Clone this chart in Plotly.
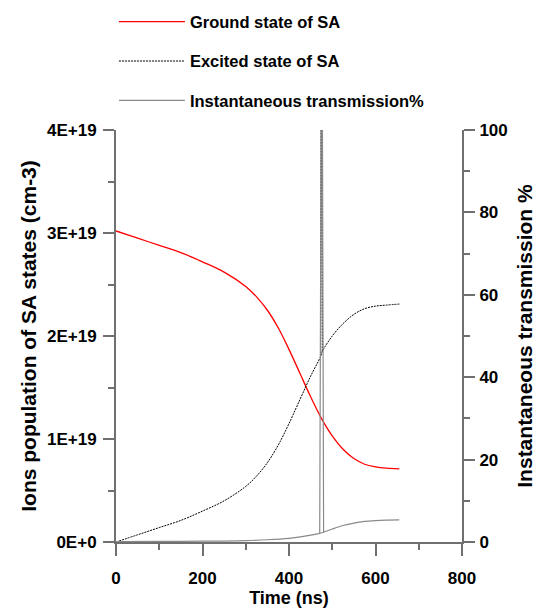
import plotly.graph_objects as go

# Time axis samples (ns)
time_ground = [0, 50, 100, 150, 200, 250, 300, 325, 350, 375, 400, 425, 450,
               475, 500, 525, 550, 575, 600, 625, 655]
# Ground-state population of the saturable absorber (cm-3)
ground_state = [3.02e19, 2.95e19, 2.88e19, 2.81e19, 2.72e19, 2.62e19, 2.48e19,
                2.38e19, 2.25e19, 2.08e19, 1.87e19, 1.64e19, 1.41e19, 1.20e19,
                1.03e19, 0.90e19, 0.81e19, 0.755e19, 0.73e19, 0.717e19, 0.71e19]

time_excited = [0, 50, 100, 150, 200, 250, 300, 325, 350, 375, 400, 425, 450,
                473, 477, 500, 525, 550, 575, 600, 625, 655]
# Excited-state population (cm-3)
excited_state = [0.0, 0.07e19, 0.14e19, 0.21e19, 0.30e19, 0.40e19, 0.54e19,
                 0.64e19, 0.77e19, 0.94e19, 1.15e19, 1.38e19, 1.61e19, 1.80e19,
                 1.85e19, 2.00e19, 2.12e19, 2.21e19, 2.265e19, 2.29e19, 2.30e19,
                 2.31e19]
# Short excited-state spike near 475 ns
time_excited_spike = [473, 475, 477]
excited_spike = [1.80e19, 6.0e19, 1.85e19]

time_trans = [0, 100, 200, 300, 350, 400, 430, 450, 471, 480, 500, 525,
              550, 575, 600, 625, 655]
# Instantaneous transmission (%)
transmission = [0.1, 0.15, 0.2, 0.35, 0.55, 0.9, 1.3, 1.65, 2.1, 2.4,
                3.15, 4.0, 4.6, 5.0, 5.2, 5.3, 5.35]
# Transmission spike near 476 ns (%)
time_trans_spike = [471, 476, 480]
trans_spike = [2.1, 150.0, 2.4]

y_tick_vals = [0, 1e19, 2e19, 3e19, 4e19]
y_tick_text = ["0E+0", "1E+19", "2E+19", "3E+19", "4E+19"]

AXIS = "#707070"
RED = "#ff0000"
GREY = "#8a8a8a"
EXC_LINE = dict(color="#000000", width=1, dash="2px,1px")
TR_LINE = dict(color=GREY, width=1.2)

fig = go.Figure()
fig.add_trace(go.Scatter(
    x=time_ground, y=ground_state, mode="lines", name="Ground state of SA",
    line=dict(color=RED, width=1.3, shape="spline", smoothing=1.0),
    legendgroup="g1"))
fig.add_trace(go.Scatter(
    x=time_excited, y=excited_state, mode="lines", name="Excited state of SA",
    line=dict(EXC_LINE, shape="spline", smoothing=1.0), legendgroup="g2"))
fig.add_trace(go.Scatter(
    x=time_excited_spike, y=excited_spike, mode="lines", showlegend=False,
    line=EXC_LINE, legendgroup="g2"))
fig.add_trace(go.Scatter(
    x=time_trans, y=transmission, mode="lines", name="Instantaneous transmission%",
    line=dict(TR_LINE, shape="spline", smoothing=1.0), yaxis="y2",
    legendgroup="g3"))
fig.add_trace(go.Scatter(
    x=time_trans_spike, y=trans_spike, mode="lines", showlegend=False,
    line=TR_LINE, yaxis="y2", legendgroup="g3"))

fig.update_layout(
    width=536, height=612,
    margin=dict(l=116, r=74, t=130, b=70, autoexpand=False),
    paper_bgcolor="white", plot_bgcolor="white",
    font=dict(family="Liberation Sans, Arial, sans-serif", size=17,
              color="black", weight="bold"),
    showlegend=True,
    legend=dict(x=-0.006, y=1.305, xanchor="left", yanchor="top",
                bgcolor="rgba(0,0,0,0)", itemwidth=66, tracegroupgap=15,
                font=dict(size=16.5)),
    xaxis=dict(
        range=[0, 800], dtick=200, tick0=0, showgrid=False, zeroline=False,
        showline=True, linecolor=AXIS, linewidth=2,
        ticks="outside", ticklen=12, tickwidth=2, tickcolor=AXIS,
        minor=dict(dtick=100, ticks="outside", ticklen=6, tickwidth=2, tickcolor=AXIS),
        title=dict(text="Time (ns)", font=dict(size=18), standoff=2),
        ticklabelstandoff=8),
    yaxis=dict(
        range=[0, 4e19], tickvals=y_tick_vals, ticktext=y_tick_text,
        showgrid=False, zeroline=False,
        showline=True, linecolor=AXIS, linewidth=2,
        ticks="outside", ticklen=11, tickwidth=2, tickcolor=AXIS,
        minor=dict(tickvals=[0.5e19, 1.5e19, 2.5e19, 3.5e19], ticks="outside",
                   ticklen=6, tickwidth=2, tickcolor=AXIS),
        ticklabelstandoff=3,
        title=dict(text="Ions population of SA states (cm-3)", font=dict(size=21),
                   standoff=5)),
    yaxis2=dict(
        range=[0, 100], dtick=20, tick0=0, overlaying="y", side="right",
        showgrid=False, zeroline=False,
        showline=True, linecolor=AXIS, linewidth=2,
        ticks="outside", ticklen=11, tickwidth=2, tickcolor=AXIS,
        minor=dict(dtick=10, ticks="outside", ticklen=6, tickwidth=2, tickcolor=AXIS),
        ticklabelstandoff=1,
        title=dict(text="Instantaneous transmission %", font=dict(size=21),
                   standoff=19)),
)

fig.write_html("out.html")
